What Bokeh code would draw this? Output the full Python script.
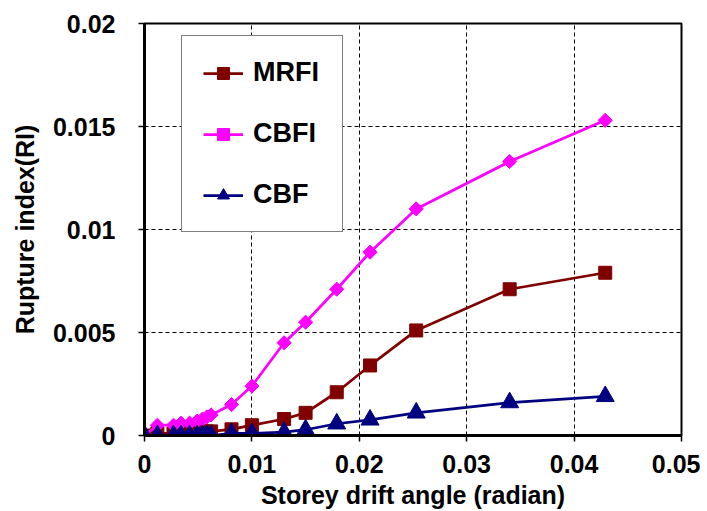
import math
from bokeh.plotting import figure
from bokeh.models import Legend, LegendItem, Range1d, FixedTicker
from bokeh.embed import file_html
from bokeh.resources import INLINE

drift = [0, 0.0012, 0.0027, 0.0034, 0.0042, 0.0049, 0.0054, 0.0058, 0.0062,
         0.0081, 0.0100, 0.0130, 0.0150, 0.0179, 0.0210, 0.0253, 0.0340, 0.0429]
mrfi = [0, 0.0001, 0.0001, 0.0001, 0.00015, 0.0002, 0.0002, 0.0002, 0.0002,
        0.0003, 0.0005, 0.0008, 0.0011, 0.0021, 0.0034, 0.0051, 0.0071, 0.0079]
cbfi = [0, 0.0005, 0.0005, 0.0006, 0.0006, 0.0007, 0.0008, 0.0009, 0.0010,
        0.0015, 0.0024, 0.0045, 0.0055, 0.0071, 0.0089, 0.0110, 0.0133, 0.0153]
cbf = [0, 0, 0, 0, 0, 0, 0, 0, 0,
       0.0001, 0.0001, 0.00016, 0.00028, 0.00057, 0.00076, 0.0011, 0.0016, 0.0019]

x_ticks = [0, 0.01, 0.02, 0.03, 0.04, 0.05]
y_ticks = [0, 0.005, 0.01, 0.015, 0.02]
x_tick_labels = ["0", "0.01", "0.02", "0.03", "0.04", "0.05"]
y_tick_labels = ["0", "0.005", "0.01", "0.015", "0.02"]

FONT = "Liberation Sans"

p = figure(width=700, height=511, output_backend="svg", toolbar_location=None,
           x_range=Range1d(0, 0.05), y_range=Range1d(0, 0.02),
           min_border_left=144, min_border_right=19, min_border_top=23, min_border_bottom=76)
p.background_fill_color = "white"
p.border_fill_color = "white"
p.outline_line_color = "black"
p.outline_line_width = 2

for ax, ticks, labels in ((p.xaxis[0], x_ticks, x_tick_labels), (p.yaxis[0], y_ticks, y_tick_labels)):
    ax.ticker = FixedTicker(ticks=ticks)
    ax.major_label_overrides = {t: l for t, l in zip(ticks, labels)}
    ax.minor_tick_line_color = None
    ax.major_tick_in = 0
    ax.major_tick_out = 6
    ax.major_tick_line_width = 1.5
    ax.major_tick_line_color = "black"
    ax.axis_line_width = 3
    ax.axis_line_color = "black"
    ax.major_label_text_font = FONT
    ax.major_label_text_font_style = "bold"
    ax.major_label_text_font_size = "25px"
    ax.major_label_text_color = "black"
    ax.axis_label_text_font = FONT
    ax.axis_label_text_font_style = "bold"
    ax.axis_label_text_font_size = "25px"
    ax.axis_label_text_color = "black"

p.xaxis.axis_label = "Storey drift angle (radian)"
p.yaxis.axis_label = "Rupture index(RI)"
p.xaxis.major_label_standoff = 13
p.xaxis.axis_label_standoff = 5
p.yaxis.major_label_standoff = 23
p.yaxis.axis_label_standoff = 11

for g in (p.xgrid[0], p.ygrid[0]):
    g.grid_line_color = "black"
    g.grid_line_dash = "4 3"
    g.grid_line_width = 1
p.xgrid.ticker = FixedTicker(ticks=x_ticks)
p.ygrid.ticker = FixedTicker(ticks=y_ticks)

r1l = p.line(drift, mrfi, line_color="#800000", line_width=2.75)
r1m = p.scatter(drift, mrfi, marker="square", size=13, fill_color="#800000", line_color="#800000")
r2l = p.line(drift, cbfi, line_color="#FF00FF", line_width=2.75)
r2m = p.scatter(drift, cbfi, marker="square", size=10, angle=math.pi / 4,
                fill_color="#FF00FF", line_color="#FF00FF")
r3l = p.line(drift, cbf, line_color="#000080", line_width=2.75)
r3m = p.scatter(drift, cbf, marker="triangle", size=18, fill_color="#000080", line_color="#000080")

legend = Legend(items=[
    LegendItem(label="MRFI", renderers=[r1l, r1m]),
    LegendItem(label="CBFI", renderers=[r2l, r2m]),
    LegendItem(label="CBF", renderers=[r3l, r3m]),
], location=(37, 203))
legend.label_text_font = FONT
legend.label_text_font_style = "bold"
legend.label_text_font_size = "27px"
legend.label_text_color = "black"
legend.glyph_width = 40
legend.glyph_height = 30
legend.label_height = 30
legend.label_width = 68
legend.label_standoff = 10
legend.spacing = 30
legend.padding = 21
legend.margin = 0
legend.border_line_color = "black"
legend.border_line_width = 1.5
legend.background_fill_color = "white"
legend.background_fill_alpha = 1
p.add_layout(legend)

open("out.html", "w").write(file_html(p, INLINE))
